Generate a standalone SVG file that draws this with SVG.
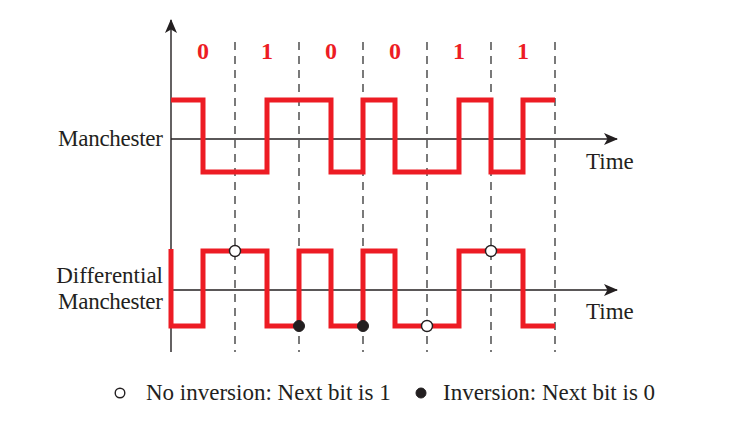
<svg xmlns="http://www.w3.org/2000/svg" width="730" height="431" viewBox="0 0 730 431">
<style>
.ax{stroke:#231f20;stroke-width:1.4;fill:none}
.dash{stroke:#333;stroke-width:1.3;stroke-dasharray:8 6;fill:none}
.sig{stroke:#ed1c24;stroke-width:5;fill:none;stroke-linejoin:miter;stroke-linecap:butt}
.lbl{font-family:"Liberation Serif","Times New Roman",serif;font-size:23px;fill:#231f20}
.bit{font-family:"Liberation Serif","Times New Roman",serif;font-size:24px;font-weight:bold;fill:#ed1c24;text-anchor:middle}
.open{fill:#fff;stroke:#231f20;stroke-width:1.4}
.fill{fill:#231f20;stroke:#231f20;stroke-width:1}
</style>
<defs>
<marker id="ah" markerWidth="14" markerHeight="12" refX="13" refY="6" orient="auto" markerUnits="userSpaceOnUse">
<path d="M0,0 L14,6 L0,12 L3.5,6 Z" fill="#231f20"/>
</marker>
</defs>
<rect width="730" height="431" fill="#fff"/>
<g id="grid">
<line class="dash" x1="235" y1="42" x2="235" y2="352"/>
<line class="dash" x1="299" y1="42" x2="299" y2="352"/>
<line class="dash" x1="363" y1="42" x2="363" y2="352"/>
<line class="dash" x1="427" y1="42" x2="427" y2="352"/>
<line class="dash" x1="491" y1="42" x2="491" y2="352"/>
<line class="dash" x1="555" y1="42" x2="555" y2="352"/>
</g>
<g id="bits">
<text class="bit" x="203" y="59">0</text>
<text class="bit" x="267" y="59">1</text>
<text class="bit" x="331" y="59">0</text>
<text class="bit" x="395" y="59">0</text>
<text class="bit" x="459" y="59">1</text>
<text class="bit" x="523" y="59">1</text>
</g>
<g id="connectors">
<line class="ax" x1="171" y1="352" x2="171" y2="20" marker-end="url(#ah)"/>
<line class="ax" x1="171" y1="139" x2="617" y2="139" marker-end="url(#ah)"/>
<line class="ax" x1="171" y1="290" x2="617" y2="290" marker-end="url(#ah)"/>
</g>
<g id="manchester">
<path class="sig" d="M171,100 H203 V172 H267 V100 H331 V172 H363 V100 H395 V172 H459 V100 H491 V172 H523 V100 H555"/>
<text class="lbl" x="163" y="146" text-anchor="end" textLength="105">Manchester</text>
<text class="lbl" x="586" y="169">Time</text>
</g>
<g id="differential">
<path class="sig" d="M171,249 V326 H203 V251 H267 V326 H299 V251 H331 V326 H363 V251 H395 V326 H459 V251 H523 V326 H555"/>
<circle class="open" cx="235" cy="251" r="5.5"/>
<circle class="open" cx="491" cy="251" r="5.5"/>
<circle class="open" cx="427" cy="326" r="5.5"/>
<circle class="fill" cx="299" cy="326" r="5.5"/>
<circle class="fill" cx="363" cy="326" r="5.5"/>
<text class="lbl" x="163" y="283" text-anchor="end">Differential</text>
<text class="lbl" x="163" y="309" text-anchor="end" textLength="105">Manchester</text>
<text class="lbl" x="586" y="319">Time</text>
</g>
<g id="legend">
<circle class="open" cx="120" cy="393" r="4.8"/>
<text class="lbl" x="146" y="400">No inversion: Next bit is 1</text>
<circle class="fill" cx="421" cy="393" r="5"/>
<text class="lbl" x="443" y="400">Inversion: Next bit is 0</text>
</g>
</svg>
